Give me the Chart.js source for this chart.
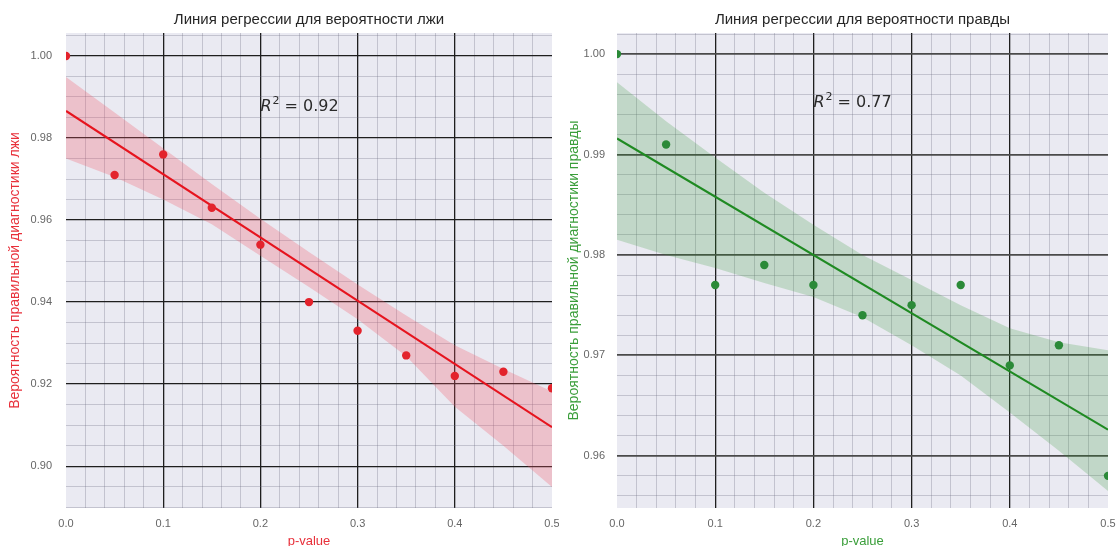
<!DOCTYPE html>
<html lang="ru">
<head>
<meta charset="utf-8">
<title>Линия регрессии</title>
<script src="https://cdn.jsdelivr.net/npm/chart.js@4.4.1/dist/chart.umd.min.js"></script>
<style>
  html, body { margin: 0; padding: 0; background: #fff; }
  #wrap { display: flex; width: 1118px; height: 546px; }
  canvas { display: block; }
</style>
</head>
<body>
<div id="wrap">
  <canvas id="lieChart" width="559" height="546"></canvas>
  <canvas id="truthChart" width="559" height="546"></canvas>
</div>
<script>
// values
const pValues = [0, 0.05, 0.1, 0.15, 0.2, 0.25, 0.3, 0.35, 0.4, 0.45, 0.5];
const lieAccuracy = [1.000, 0.971, 0.976, 0.963, 0.954, 0.940, 0.933, 0.927, 0.922, 0.923, 0.919];
const truthAccuracy = [1.000, 0.991, 0.977, 0.979, 0.977, 0.974, 0.975, 0.977, 0.969, 0.971, 0.958];

// regression line ends and confidence band edges
const fitEnds = [0, 0.5];
const lieFit = [0.9866, 0.9095];
const truthFit = [0.9916, 0.9626];
const lieBandUpper = [0.9949, 0.9862, 0.9775, 0.9688, 0.9603, 0.9522, 0.9443, 0.9367, 0.9295, 0.9237, 0.9182];
const lieBandLower = [0.9750, 0.9705, 0.9650, 0.9590, 0.9513, 0.9437, 0.9358, 0.9268, 0.9145, 0.9050, 0.8949];
const truthBandUpper = [0.9972, 0.9933, 0.9897, 0.9862, 0.9830, 0.9800, 0.9775, 0.9750, 0.9727, 0.9713, 0.9705];
const truthBandLower = [0.9815, 0.9800, 0.9787, 0.9772, 0.9758, 0.9738, 0.9710, 0.9680, 0.9643, 0.9605, 0.9565];

const xTickLabels = ['0.0', '0.1', '0.2', '0.3', '0.4', '0.5'];
const lieYTickLabels = ['0.90', '0.92', '0.94', '0.96', '0.98', '1.00'];
const truthYTickLabels = ['0.96', '0.97', '0.98', '0.99', '1.00'];

const lieR2 = '0.92';
const truthR2 = '0.77';

Chart.defaults.font.family = '"Liberation Sans", Arial, sans-serif';

// major ticks from the label list, minor ones in between
function gridTicks(labels, parts, min, max) {
  const first = Number(labels[0]);
  const step = (Number(labels[1]) - first) / parts;
  const ticks = [];
  for (let i = Math.ceil((min - first) / step - 1e-6); first + i * step <= max + 1e-9; i++) {
    const v = +(first + i * step).toFixed(6);
    ticks.push({ value: v, isMajor: i % parts === 0 });
  }
  return ticks;
}

function labelFor(labels, value) {
  const hit = labels.find(l => Math.abs(Number(l) - value) < 1e-6);
  return hit === undefined ? '' : hit;
}

const panelText = {
  id: 'panelText',
  beforeDraw(chart) {
    const a = chart.chartArea;
    const ctx = chart.ctx;
    ctx.save();
    ctx.fillStyle = '#eaeaf2';
    ctx.fillRect(a.left, a.top, a.right - a.left, a.bottom - a.top);
    ctx.restore();
  },
  afterDraw(chart, args, o) {
    const a = chart.chartArea;
    const ctx = chart.ctx;
    ctx.save();
    ctx.fillStyle = '#262626';
    ctx.textBaseline = 'middle';
    ctx.textAlign = 'center';
    ctx.font = '15px "Liberation Sans", Arial, sans-serif';
    ctx.fillText(o.title, (a.left + a.right) / 2, 20);

    // R^2 annotation
    let x = chart.scales.x.getPixelForValue(o.r2x);
    const y = chart.scales.y.getPixelForValue(o.r2y);
    ctx.textAlign = 'left';
    ctx.fillStyle = '#2b2b2b';
    ctx.font = 'italic 16px "DejaVu Sans", sans-serif';
    ctx.fillText('R', x, y);
    x += ctx.measureText('R').width + 1;
    ctx.font = '11px "DejaVu Sans", sans-serif';
    ctx.fillText('2', x, y - 6);
    x += ctx.measureText('2').width;
    ctx.font = '16px "DejaVu Sans", sans-serif';
    ctx.fillText(' = ' + o.r2, x, y);
    ctx.restore();
  }
};

function buildChart(canvasId, opts) {
  const xy = (xs, ys) => xs.map((x, i) => ({ x: x, y: ys[i] }));
  const minorColor = 'rgba(105, 105, 125, 0.3)';

  return new Chart(document.getElementById(canvasId), {
    type: 'scatter',
    data: {
      datasets: [
        {
          data: xy(pValues, opts.points),
          backgroundColor: opts.pointColor,
          borderWidth: 0,
          pointRadius: 4.2,
          clip: 0
        },
        {
          type: 'line',
          data: xy(fitEnds, opts.fit),
          borderColor: opts.lineColor,
          borderWidth: 2.2,
          pointRadius: 0,
          fill: false,
          clip: 0
        },
        {
          type: 'line',
          data: xy(pValues, opts.upper),
          borderColor: 'transparent',
          borderWidth: 0,
          pointRadius: 0,
          fill: '+1',
          backgroundColor: opts.bandColor,
          clip: 0
        },
        {
          type: 'line',
          data: xy(pValues, opts.lower),
          borderColor: 'transparent',
          borderWidth: 0,
          pointRadius: 0,
          fill: false,
          clip: 0
        }
      ]
    },
    options: {
      responsive: false,
      animation: false,
      events: [],
      layout: {
        autoPadding: false,
        padding: { top: 33, right: opts.padRight, left: 0, bottom: 0 }
      },
      plugins: {
        legend: { display: false },
        tooltip: { enabled: false },
        panelText: { title: opts.title, r2: opts.r2, r2x: opts.r2x, r2y: opts.r2y }
      },
      scales: {
        x: {
          type: 'linear',
          min: 0,
          max: 0.5,
          afterBuildTicks: s => { s.ticks = gridTicks(xTickLabels, 5, 0, 0.5); },
          afterFit: s => { s.height = 38; s.paddingLeft = 0; s.paddingRight = 0; },
          border: { display: false },
          grid: {
            drawTicks: false,
            color: c => {
              if (!c.tick) return minorColor;
              if (c.tick.value <= 0 || c.tick.value >= 0.5) return 'transparent';
              return c.tick.isMajor ? '#1e1e1e' : minorColor;
            },
            lineWidth: c => (c.tick && c.tick.isMajor ? 1.3 : 1)
          },
          ticks: {
            autoSkip: false,
            maxRotation: 0,
            padding: 9,
            color: '#666',
            font: { size: 11 },
            callback: (v, i, t) => (t[i].isMajor ? labelFor(xTickLabels, v) : '')
          },
          title: {
            display: true,
            text: 'p-value',
            color: opts.accent,
            font: { size: 13 },
            padding: { top: 0, bottom: -3 }
          }
        },
        y: {
          type: 'linear',
          min: opts.yMin,
          max: opts.yMax,
          afterBuildTicks: s => { s.ticks = gridTicks(opts.yLabels, opts.yParts, opts.yMin, opts.yMax); },
          afterFit: s => { s.width = opts.yWidth; s.paddingTop = 0; s.paddingBottom = 0; },
          border: { display: false },
          grid: {
            drawTicks: false,
            color: c => (c.tick && c.tick.isMajor ? opts.yMajorColor : minorColor),
            lineWidth: c => (c.tick && c.tick.isMajor ? opts.yMajorWidth : 1)
          },
          ticks: {
            autoSkip: false,
            padding: opts.yPad,
            color: '#666',
            font: { size: 11 },
            callback: (v, i, t) => (t[i].isMajor ? labelFor(opts.yLabels, v) : '')
          },
          title: {
            display: true,
            text: opts.yTitle,
            color: opts.accent,
            font: { size: 14 },
            padding: { top: 7, bottom: 0 }
          }
        }
      }
    },
    plugins: [panelText]
  });
}

buildChart('lieChart', {
  title: 'Линия регрессии для вероятности лжи',
  yTitle: 'Вероятность правильной диагностики лжи',
  points: lieAccuracy,
  fit: lieFit,
  upper: lieBandUpper,
  lower: lieBandLower,
  r2: lieR2, r2x: 0.2, r2y: 0.9876,
  pointColor: '#e3232c',
  lineColor: '#e6141e',
  bandColor: 'rgba(240, 85, 105, 0.28)',
  accent: '#e8303a',
  yMin: 0.8898, yMax: 1.0056,
  yLabels: lieYTickLabels, yParts: 4,
  yMajorColor: '#1e1e1e', yMajorWidth: 1.3,
  yWidth: 66, yPad: 14, padRight: 7
});

buildChart('truthChart', {
  title: 'Линия регрессии для вероятности правды',
  yTitle: 'Вероятность правильной диагностики правды',
  points: truthAccuracy,
  fit: truthFit,
  upper: truthBandUpper,
  lower: truthBandLower,
  r2: truthR2, r2x: 0.2, r2y: 0.9951,
  pointColor: '#2b8a38',
  lineColor: '#1f8a22',
  bandColor: 'rgba(52, 150, 52, 0.22)',
  accent: '#3a9e3a',
  yMin: 0.9548, yMax: 1.0021,
  yLabels: truthYTickLabels, yParts: 5,
  yMajorColor: '#4a4a4a', yMajorWidth: 1.8,
  yWidth: 58, yPad: 12, padRight: 10
});
</script>
</body>
</html>
